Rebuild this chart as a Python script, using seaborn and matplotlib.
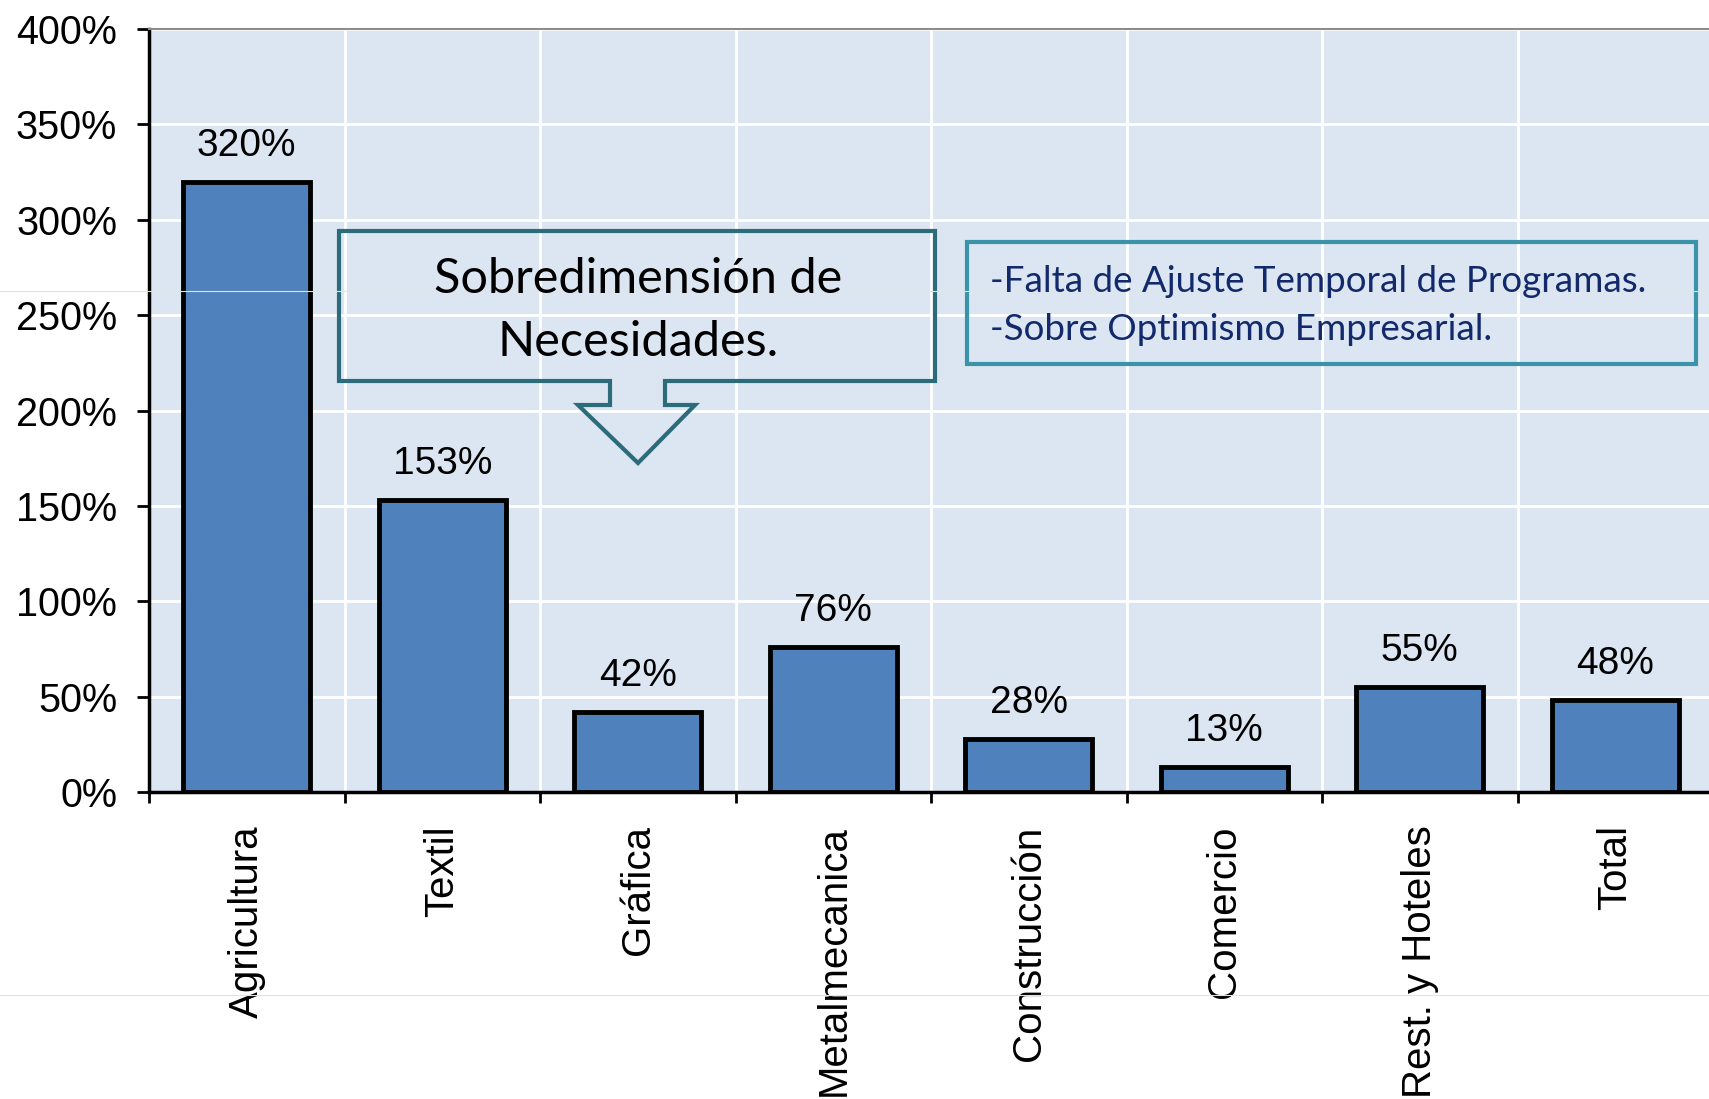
import numpy as np
import pandas as pd
import seaborn as sns
import matplotlib.pyplot as plt
from matplotlib.patches import Polygon, Rectangle
from matplotlib.lines import Line2D

# data
sectores = ['Agricultura', 'Textil', 'Gráfica', 'Metalmecanica',
            'Construcción', 'Comercio', 'Rest. y Hoteles', 'Total']
sobredimension = [320, 153, 42, 76, 28, 13, 55, 48]
yticks = [0, 50, 100, 150, 200, 250, 300, 350, 400]

callout_main = ['Sobredimensión de', 'Necesidades.']
callout_causas = ['-Falta de Ajuste Temporal de Programas.',
                  '-Sobre Optimismo Empresarial.']

df = pd.DataFrame({'sector': sectores, 'pct': sobredimension})

W, H = 1709, 1099
fig = plt.figure(figsize=(W / 100, H / 100), dpi=100)
ax = fig.add_axes([149 / W, 1 - 792 / H, 8 * 195.5 / W, (792 - 29) / H])
ax.set_facecolor('#DCE6F2')

sns.barplot(data=df, x='sector', y='pct', color='#4F81BD', saturation=1,
            edgecolor='black', linewidth=3.5, width=0.65, ax=ax, zorder=3)

ax.set_xlim(-0.5, 7.5)
ax.set_ylim(0, 400)
ax.set_yticks(yticks)
ax.set_yticklabels([f'{v}%' for v in yticks], family='Liberation Sans', fontsize=28.5)
ax.set_xticks(range(len(sectores)))
ax.set_xticklabels(sectores, rotation=90, family='Liberation Sans', fontsize=29)
ax.set_xticks(np.arange(-0.5, 8, 1), minor=True)
ax.tick_params(axis='x', which='major', length=0, pad=24)
ax.tick_params(axis='x', which='minor', length=8, width=2, color='black')
ax.tick_params(axis='y', length=9, width=2, color='black', pad=14)
ax.set_xlabel('')
ax.set_ylabel('')

ax.grid(True, axis='y', which='major', color='white', linewidth=2, zorder=0)
ax.grid(True, axis='x', which='minor', color='white', linewidth=2, zorder=0)
ax.set_axisbelow(True)

for s in ['left', 'bottom']:
    ax.spines[s].set_color('black')
    ax.spines[s].set_linewidth(2.5)
ax.spines['top'].set_color('#8C8C8C')
ax.spines['top'].set_linewidth(1.5)
ax.spines['right'].set_visible(False)

ax.bar_label(ax.containers[0], labels=[f'{v}%' for v in sobredimension],
             padding=13, family='Liberation Sans', fontsize=28)


def px(x, y):
    return (x / W, 1 - y / H)


# callout arrow box
pts = [(339, 231), (935, 231), (935, 381), (665, 381), (665, 405), (695, 405),
       (638, 463), (578, 405), (610, 405), (610, 381), (339, 381)]
fig.add_artist(Polygon([px(x, y) for x, y in pts], closed=True, fill=False,
                       edgecolor='#2B6B7A', linewidth=3, joinstyle='miter',
                       transform=fig.transFigure))
for line, yy in zip(callout_main, [279, 342]):
    fig.text(*px(638, yy), line, ha='center', va='center', fontsize=35,
             family='Lato', color='black')

# second box
x0, y0 = px(967, 364)
fig.add_artist(Rectangle((x0, y0), (1696 - 967) / W, (364 - 242) / H, fill=False,
                         edgecolor='#3A93A8', linewidth=3, transform=fig.transFigure))
for line, yy in zip(callout_causas, [281, 330]):
    fig.text(*px(990, yy), line, ha='left', va='center', fontsize=26.5,
             family='Lato', color='#12296B')

# faint slide guide lines
for yy in [291, 995]:
    fig.add_artist(Line2D([0, 1], [1 - yy / H] * 2, color='#EFE2C6', linewidth=0.8,
                          transform=fig.transFigure))

fig.savefig('out.png', dpi=100)
